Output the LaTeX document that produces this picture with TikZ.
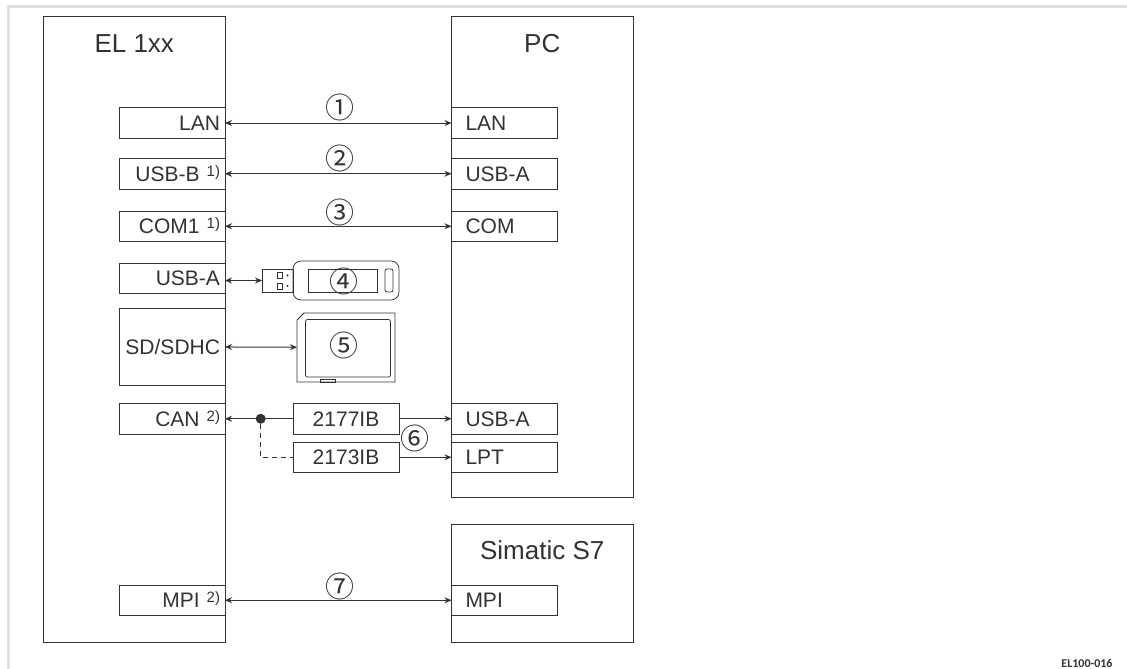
\documentclass[tikz,border=0pt]{standalone}
\usepackage{fontspec}
\setmainfont{Liberation Sans}
\newfontfamily\circfont{Noto Sans CJK JP}
\newfontfamily\tagfont{Carlito}
\usetikzlibrary{arrows.meta,positioning}
\definecolor{elline}{RGB}{50,50,50}
\definecolor{elband}{RGB}{224,224,224}
\newcommand{\portnote}[1]{\raisebox{5pt}{\fontsize{15}{15}\selectfont #1)}}
\begin{document}
\begin{tikzpicture}[x=1pt,y=-1pt,line width=1pt,color=elline,node distance=20.25pt,
    unitbox/.style={draw=elline,minimum width=181.5pt,anchor=north west,inner sep=0pt,outer sep=0pt},
    title/.style={font=\fontsize{26}{30}\selectfont,text height=18.6pt,text depth=0pt,inner sep=0pt,outer sep=0pt},
    portl/.style={draw=elline,minimum height=30.5pt,text width=96pt,align=right,inner xsep=5pt,inner ysep=0pt,outer sep=0pt,
      text height=15pt,text depth=0pt,font=\fontsize{21}{24}\selectfont},
    portr/.style={portl,text width=78pt,align=left,inner xsep=14pt},
    module/.style={portl,text width=96pt,align=center},
    num/.style={font=\circfont\fontsize{29}{29}\selectfont,inner sep=0pt},
    link/.style={{Stealth[length=7pt,width=6pt]}-{Stealth[length=7pt,width=6pt]}},
    toright/.style={-{Stealth[length=7pt,width=6pt]}},
    toleft/.style={{Stealth[length=7pt,width=6pt]}-},
    joint/.style={circle,fill=elline,inner sep=0pt,minimum size=10pt,outer sep=0pt},
    part/.style={draw=elline,line width=0.75pt,inner sep=0pt,outer sep=0pt}]
    \useasboundingbox (0,0) rectangle (1127,669);
    \fill[elband] (7,5) rectangle (1127,8);
    \fill[elband] (7,5) rectangle (10,669);
    % units
    \node[unitbox,minimum height=625pt] (el) at (43.5,17) {};
    \node[unitbox,minimum height=480.5pt] (pc) at (451.5,17) {};
    \node[unitbox,minimum height=118pt] (s7) at (451.5,524) {};
    \node[title,below=16.5pt of el.north] (eltitle) {EL 1xx};
    \node[title,below=16.5pt of pc.north] (pctitle) {PC};
    \node[title,below=16.5pt of s7.north] (s7title) {Simatic S7};
    % ports, left side
    \node[portl,anchor=east] (lanl) at (225,123) {LAN};
    \node[portl,below=of lanl] (usbbl) {USB-B \portnote{1}};
    \node[portl,below=22pt of usbbl] (coml) {COM1 \portnote{1}};
    \node[portl,below=21.5pt of coml] (usbal) {USB-A};
    \node[portl,below=15pt of usbal,minimum height=76.5pt] (sdl) {SD/SDHC};
    \node[portl,below=18.5pt of sdl] (canl) {CAN \portnote{2}};
    \node[portl,below=151pt of canl] (mpil) {MPI \portnote{2}};
    % ports, right side
    \node[portr,right=226.5pt of lanl] (lanr) {LAN};
    \node[portr,right=226.5pt of usbbl] (usbar) {USB-A};
    \node[portr,right=226.5pt of coml] (comr) {COM};
    \node[portr,right=226.5pt of canl] (usbcr) {USB-A};
    \node[portr,below=8pt of usbcr] (lptr) {LPT};
    \node[portr,right=226.5pt of mpil] (mpir) {MPI};
    % interface modules
    \node[module,right=68pt of canl] (ib77) {2177IB};
    \node[module,below=8pt of ib77] (ib73) {2173IB};
    \node[joint,right=30.7pt of canl] (dot) {};
    % memory stick
    \node[part,minimum width=31pt,minimum height=23pt,anchor=west] (plug) at (262,280.5) {};
    \node[part,rounded corners=8pt,minimum width=106pt,minimum height=39pt,right=0pt of plug] (stick) {};
    \node[part,minimum width=69pt,minimum height=23pt,anchor=west] (window) at (308,280.5) {};
    \node[part,rounded corners=2pt,minimum width=8pt,minimum height=23pt,anchor=west] (slot) at (385,280.5) {};
    \node[part,minimum width=5pt,minimum height=6pt] (padup) at (279.5,275) {};
    \node[part,minimum width=5pt,minimum height=6pt] (paddown) at (279.5,286) {};
    \node[circle,fill=elline,inner sep=0pt,minimum size=2.4pt] (dotup) at (287.5,275.5) {};
    \node[circle,fill=elline,inner sep=0pt,minimum size=2.4pt] (dotdown) at (287.5,286) {};
    % memory card
    \draw[line width=0.75pt] (297,320) -- (304,313) -- (395,313) -- (395,382) -- (297,382) -- cycle;
    \node[part,rounded corners=2pt,minimum width=85pt,minimum height=57.5pt,anchor=north west] (sdface) at (305.5,319.5) {};
    \node[part,minimum width=15pt,minimum height=2.5pt,anchor=south west] (sdpin) at (320,382) {};
    \coordinate (sdedge) at (297,347.25);
    % numbers
    \node[num] (n1) at (339.5,107) {①};
    \node[num] (n2) at (339.5,158) {②};
    \node[num] (n3) at (339.5,212) {③};
    \node[num] (n4) at (344,281) {④};
    \node[num] (n5) at (344,345) {⑤};
    \node[num] (n6) at (415,438) {⑥};
    \node[num] (n7) at (340,586) {⑦};
    % connections
    \draw[link] (lanl) -- (lanr);
    \draw[link] (usbbl) -- (usbar);
    \draw[link] (coml) -- (comr);
    \draw[link] (usbal.east |- plug.west) -- (plug);
    \draw[link] (sdl) -- (sdedge);
    \draw[toleft] (canl) -- (ib77);
    \draw[toright] (ib77) -- (usbcr);
    \draw[toright] (ib73) -- (lptr);
    \draw[dashed,dash pattern=on 5pt off 4pt] (dot) |- (ib73);
    \draw[link] (mpil) -- (mpir);
    \node[anchor=east,font=\tagfont\bfseries\fontsize{12}{14}\selectfont,inner sep=0pt] (tag) at (1113,663) {EL100-016};
  \end{tikzpicture}
\end{document}
